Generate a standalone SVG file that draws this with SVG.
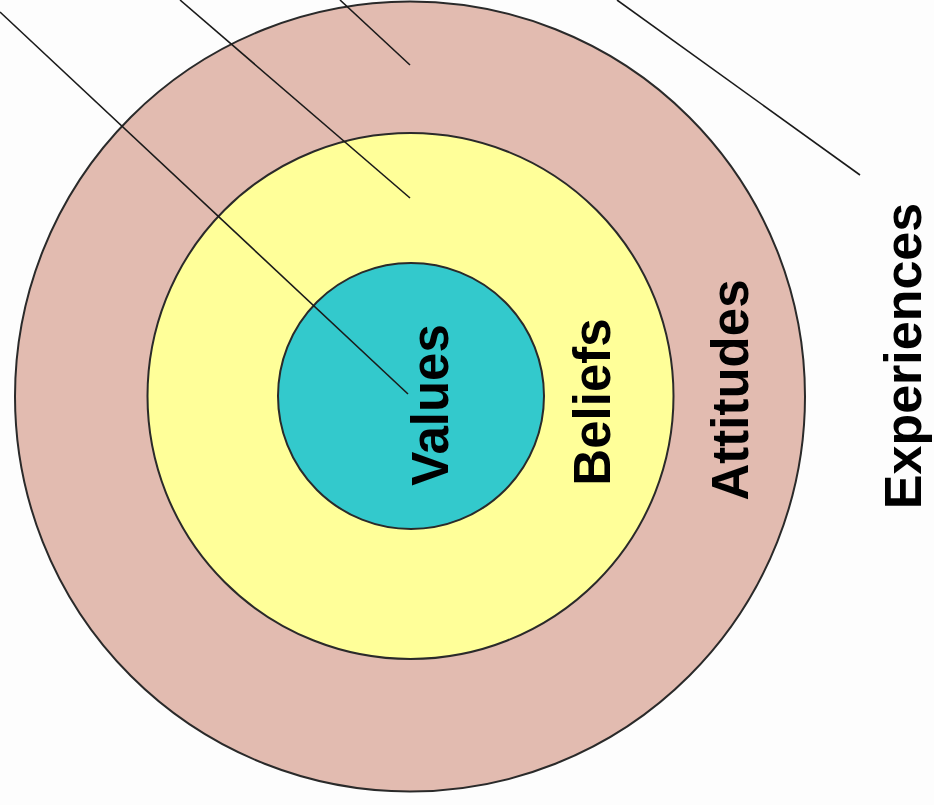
<svg xmlns="http://www.w3.org/2000/svg" width="934" height="805" viewBox="0 0 934 805">
<style>
.ring{stroke:#2a2a2a;stroke-width:2}
.lbl{font-family:"Liberation Sans",Arial,sans-serif;font-weight:bold;font-size:51px;fill:#000;text-anchor:middle}
.conn{stroke:#1a1a1a;stroke-width:1.6;fill:none}
</style>
<rect width="934" height="805" fill="#fdfdfd"/>
<g id="experiences">
<text class="lbl" transform="translate(921,356) rotate(-90)" style="font-size:52px">Experiences</text>
</g>
<g id="attitudes">
<circle class="ring" cx="410" cy="396.5" r="395" fill="#E2BBB0"/>
<text class="lbl" transform="translate(748,390) rotate(-90)">Attitudes</text>
</g>
<g id="beliefs">
<circle class="ring" cx="410.5" cy="396" r="263" fill="#FFFF99"/>
<text class="lbl" transform="translate(610,402) rotate(-90)">Beliefs</text>
</g>
<g id="values">
<circle class="ring" cx="411" cy="396" r="133" fill="#33C9CC"/>
<text class="lbl" transform="translate(448,405) rotate(-90)">Values</text>
</g>
<g id="connectors">
<line class="conn" x1="0" y1="12" x2="408" y2="394"/>
<line class="conn" x1="180" y1="0" x2="410" y2="198"/>
<line class="conn" x1="340" y1="0" x2="410" y2="65"/>
<line class="conn" x1="617" y1="0" x2="860" y2="175"/>
</g>
</svg>
